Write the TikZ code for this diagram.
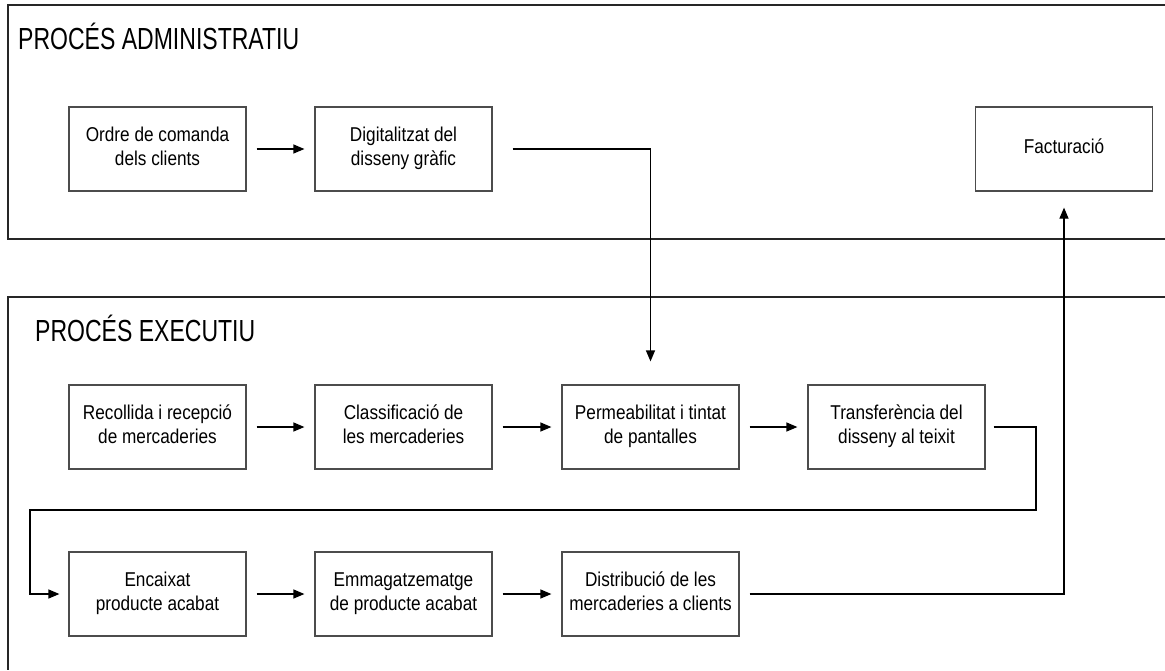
\documentclass[tikz,border=0pt]{standalone}
\usepackage{fontspec}
\setmainfont{Liberation Sans}
\usepackage{graphicx}
\usetikzlibrary{arrows.meta}

\tikzset{
  stage/.style={draw=black!70, line width=1.2pt, minimum width=177pt, minimum height=84pt, inner sep=0pt, font=\fontsize{20}{24}\selectfont},
  flow/.style={-{Triangle[length=11pt,width=9pt]}, line width=1.2pt, black},
  frame/.style={line width=1.3pt, black!85},
  title/.style={anchor=base west, inner sep=0pt, font=\fontsize{30.5}{36}\selectfont},
}
\newcommand{\stagetext}[1]{\scalebox{0.86}[1]{\begin{tabular}{@{}c@{}}#1\end{tabular}}}

\begin{document}
\begin{tikzpicture}[x=1pt,y=-1pt]
    \useasboundingbox (0,0) rectangle (1165,670);
    % frames
    \draw[frame] (1165,5) -- (8,5) -- (8,239) -- (1165,239);
    \draw[frame] (1165,297) -- (8,297) -- (8,670);
    \node[title] (admTitle) at (18,49) {\scalebox{0.755}[1]{PROCÉS ADMINISTRATIU}};
    \node[title] (exeTitle) at (35,341) {\scalebox{0.755}[1]{PROCÉS EXECUTIU}};

    % administrative process
    \node[stage] (ordre) at (157.5,149) {\stagetext{Ordre de comanda\\dels clients}};
    \node[stage] (digit) at (403.5,149) {\stagetext{Digitalitzat del\\disseny gràfic}};
    \node[stage] (fact) at (1064,149) {\stagetext{Facturació}};

    % executive process
    \node[stage] (recoll) at (157.5,427) {\stagetext{Recollida i recepció\\de mercaderies}};
    \node[stage] (classif) at (403.5,427) {\stagetext{Classificació de\\les mercaderies}};
    \node[stage] (perm) at (650.5,427) {\stagetext{Permeabilitat i tintat\\de pantalles}};
    \node[stage] (transf) at (896.5,427) {\stagetext{Transferència del\\disseny al teixit}};
    \node[stage] (encaix) at (157.5,594) {\stagetext{Encaixat\\producte acabat}};
    \node[stage] (emmag) at (403.5,594) {\stagetext{Emmagatzematge\\de producte acabat}};
    \node[stage] (distr) at (650.5,594) {\stagetext{Distribució de les\\mercaderies a clients}};

    % connectors
    \draw[flow,shorten <=10pt,shorten >=10pt] (ordre) -- (digit);
    \draw[flow,shorten <=20pt,shorten >=23pt] (digit.east) -| (perm.north);
    \draw[flow,shorten <=10pt,shorten >=10pt] (recoll) -- (classif);
    \draw[flow,shorten <=10pt,shorten >=10pt] (classif) -- (perm);
    \draw[flow,shorten <=10pt,shorten >=10pt] (perm) -- (transf);
    \coordinate (loopR) at (1036,510);
    \coordinate (loopL) at (30,510);
    \draw[flow,shorten <=8pt,shorten >=9pt] (transf.east) -| (loopR) -- (loopL) |- (encaix.west);
    \draw[flow,shorten <=10pt,shorten >=10pt] (encaix) -- (emmag);
    \draw[flow,shorten <=10pt,shorten >=10pt] (emmag) -- (distr);
    \draw[flow,shorten <=10pt,shorten >=16pt] (distr.east) -| (fact.south);
\end{tikzpicture}
\end{document}
